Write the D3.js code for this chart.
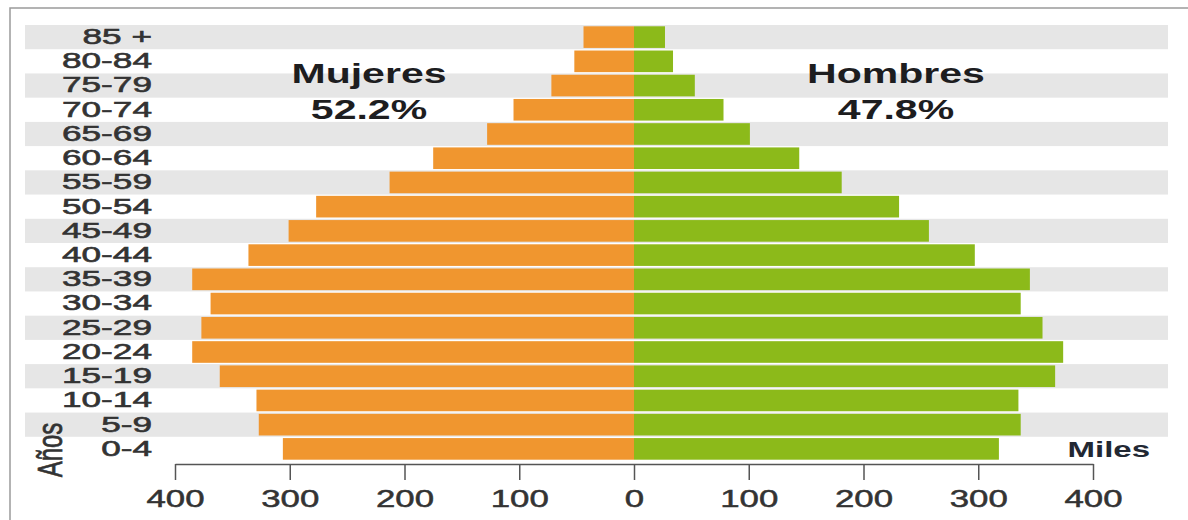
<!DOCTYPE html>
<html>
<head>
<meta charset="utf-8">
<script src="https://cdn.jsdelivr.net/npm/d3@7"></script>
<style>
  html, body { margin: 0; padding: 0; background: #fff; }
  svg { display: block; font-family: "Liberation Sans", Arial, sans-serif; }
</style>
</head>
<body>
<svg id="pyramid" width="1188" height="520"></svg>
<script>
// age groups, top to bottom
const ages = ['85 +', '80-84', '75-79', '70-74', '65-69', '60-64', '55-59', '50-54', '45-49',
  '40-44', '35-39', '30-34', '25-29', '20-24', '15-19', '10-14', '5-9', '0-4'];

// thousands
const mujeres = [44, 52, 72, 105, 128, 175, 213, 277, 301, 336, 385, 369, 377, 385, 361, 329, 327, 306];
const hombres = [27, 34, 53, 78, 101, 144, 181, 231, 257, 297, 345, 337, 356, 374, 367, 335, 337, 318];

const tickValues = [-400, -300, -200, -100, 0, 100, 200, 300, 400];

const svg = d3.select('#pyramid');

const x = d3.scaleLinear().domain([-400, 400]).range([175, 1093]);
const y = d3.scaleBand().domain(ages).range([25, 461]);
const gap = 2.6;

// frame
svg.append('rect')
  .attr('x', 10).attr('y', 8)
  .attr('width', 1200).attr('height', 540)
  .attr('fill', 'none')
  .attr('stroke', '#9a9a9a')
  .attr('stroke-width', 1.5);

// alternating stripes
svg.append('g')
  .selectAll('rect')
  .data(ages.filter((d, i) => i % 2 === 0))
  .join('rect')
  .attr('x', 25)
  .attr('width', 1168 - 25)
  .attr('y', d => y(d))
  .attr('height', y.step())
  .attr('fill', '#e6e6e6');

const rows = ages.map((a, i) => ({ age: a, m: mujeres[i], h: hombres[i] }));

svg.append('g')
  .selectAll('rect')
  .data(rows)
  .join('rect')
  .attr('x', d => x(-d.m))
  .attr('width', d => x(0) - x(-d.m))
  .attr('y', d => y(d.age) + gap / 2)
  .attr('height', y.step() - gap)
  .attr('fill', '#f0962f');

svg.append('g')
  .selectAll('rect')
  .data(rows)
  .join('rect')
  .attr('x', x(0))
  .attr('width', d => x(d.h) - x(0))
  .attr('y', d => y(d.age) + gap / 2)
  .attr('height', y.step() - gap)
  .attr('fill', '#8cba1a');

// age labels
svg.append('g')
  .selectAll('g')
  .data(ages)
  .join('g')
  .attr('transform', d => `translate(152,${y(d) + y.step() / 2 - 1}) scale(1.6,1)`)
  .append('text')
  .attr('text-anchor', 'end')
  .attr('dy', '0.36em')
  .attr('font-size', 22)
  .attr('fill', '#333')
  .attr('stroke', '#333')
  .attr('stroke-width', 0.6)
  .text(d => d);

// x axis
const axis = svg.append('g')
  .attr('transform', 'translate(0,464)')
  .call(d3.axisBottom(x)
    .tickValues(tickValues)
    .tickFormat(d => Math.abs(d))
    .tickSize(16)
    .tickSizeOuter(0)
    .tickPadding(10));

axis.select('.domain').attr('stroke', '#555').attr('stroke-width', 1.5);
axis.selectAll('.tick line').attr('stroke', '#555').attr('stroke-width', 1.5);
axis.selectAll('.tick text')
  .attr('font-size', 24)
  .attr('font-family', '"Liberation Sans", Arial, sans-serif')
  .attr('fill', '#333')
  .attr('stroke', '#333')
  .attr('stroke-width', 0.5)
  .attr('transform', 'scale(1.45,1)');

// titles
const titles = [
  { t: 'Mujeres', cx: 369, by: 83 },
  { t: '52.2%', cx: 369, by: 119 },
  { t: 'Hombres', cx: 896, by: 83 },
  { t: '47.8%', cx: 896, by: 119 }
];

svg.append('g')
  .selectAll('g')
  .data(titles)
  .join('g')
  .attr('transform', d => `translate(${d.cx},${d.by}) scale(1.52,1)`)
  .append('text')
  .attr('text-anchor', 'middle')
  .attr('font-size', 27)
  .attr('font-weight', 'bold')
  .attr('fill', '#1d1d1f')
  .text(d => d.t);

svg.append('g')
  .attr('transform', 'translate(1150,457) scale(1.5,1)')
  .append('text')
  .attr('text-anchor', 'end')
  .attr('font-size', 22)
  .attr('font-weight', 'bold')
  .attr('fill', '#222833')
  .text('Miles');

svg.append('g')
  .attr('transform', 'translate(62,450) rotate(-90) scale(1,1.5)')
  .append('text')
  .attr('text-anchor', 'middle')
  .attr('font-size', 24)
  .attr('fill', '#333')
  .attr('stroke', '#333')
  .attr('stroke-width', 0.5)
  .text('Años');
</script>
</body>
</html>
